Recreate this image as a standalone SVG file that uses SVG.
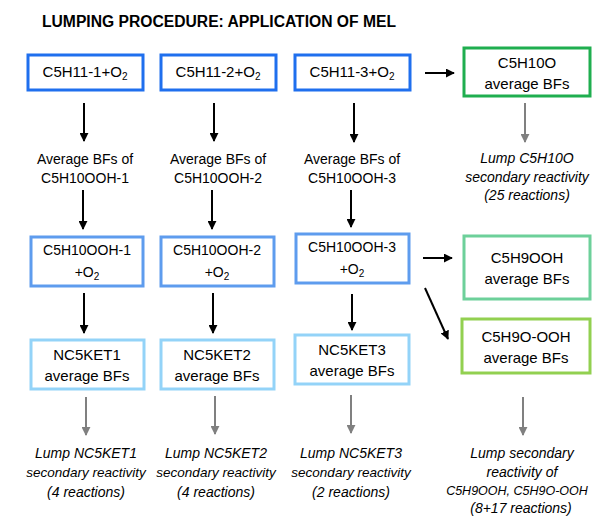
<svg xmlns="http://www.w3.org/2000/svg" width="595" height="516" viewBox="0 0 595 516">
<defs>
<marker id="ab" viewBox="0 0 10 10" refX="9" refY="5" markerWidth="4.5" markerHeight="4.5" orient="auto" markerUnits="strokeWidth"><path d="M0,0 L10,5 L0,10 z" fill="#000"/></marker>
<marker id="ag" viewBox="0 0 10 10" refX="9" refY="5" markerWidth="4.5" markerHeight="4.5" orient="auto" markerUnits="strokeWidth"><path d="M0,0 L10,5 L0,10 z" fill="#808080"/></marker>
</defs>
<style>
text{font-family:"Liberation Sans",Arial,sans-serif;font-size:14px;fill:#000;text-anchor:middle}
.t{font-size:16px;font-weight:bold;text-anchor:start}
.b{font-size:15px}
.i{font-style:italic}
.n{font-size:13.5px}
.m{font-size:12.5px}
.s{font-size:10px}
rect{fill:#fff;stroke-width:3}
.r1{stroke:#1f6fee}
.r3{stroke:#5e9cee}
.r4{stroke:#93d3f8}
.g1{stroke:#1fae4f}
.g2{stroke:#6dd09a}
.g3{stroke:#92d050}
.k{stroke:#000;stroke-width:2;fill:none;marker-end:url(#ab)}
.g{stroke:#808080;stroke-width:2;fill:none;marker-end:url(#ag)}
</style>
<text class="t" x="42" y="27" textLength="354" lengthAdjust="spacingAndGlyphs">LUMPING PROCEDURE: APPLICATION OF MEL</text>

<g id="n_c5h11_1"><rect class="r1" x="28" y="55" width="115" height="35"/><text class="b" x="85" y="77">C5H11-1+O<tspan class="s" dy="3">2</tspan></text></g>
<g id="n_c5h11_2"><rect class="r1" x="161" y="55" width="115" height="35"/><text class="b" x="218" y="77">C5H11-2+O<tspan class="s" dy="3">2</tspan></text></g>
<g id="n_c5h11_3"><rect class="r1" x="295" y="55" width="115" height="35"/><text class="b" x="352" y="77">C5H11-3+O<tspan class="s" dy="3">2</tspan></text></g>
<g id="n_c5h10o"><rect class="g1" x="464" y="48" width="126" height="48"/><text class="b" x="527" y="68">C5H10O</text><text class="b" x="527" y="89">average BFs</text></g>

<g id="n_avg1"><text x="85" y="164">Average BFs of</text><text x="85" y="183">C5H10OOH-1</text></g>
<g id="n_avg2"><text x="218" y="164">Average BFs of</text><text x="218" y="183">C5H10OOH-2</text></g>
<g id="n_avg3"><text x="352" y="164">Average BFs of</text><text x="352" y="183">C5H10OOH-3</text></g>
<g id="n_lump_c5h10o"><text class="i" x="527" y="163">Lump C5H10O</text><text class="i" x="527" y="182">secondary reactivity</text><text class="i" x="527" y="200">(25 reactions)</text></g>

<g id="n_ooh1"><rect class="r3" x="31" y="237" width="112" height="49"/><text x="87" y="255">C5H10OOH-1</text><text x="87" y="277">+O<tspan class="s" dy="3">2</tspan></text></g>
<g id="n_ooh2"><rect class="r3" x="161" y="237" width="113" height="49"/><text x="217" y="255">C5H10OOH-2</text><text x="217" y="277">+O<tspan class="s" dy="3">2</tspan></text></g>
<g id="n_ooh3"><rect class="r3" x="296" y="234" width="113" height="49"/><text x="352" y="252">C5H10OOH-3</text><text x="352" y="274">+O<tspan class="s" dy="3">2</tspan></text></g>
<g id="n_c5h9ooh"><rect class="g2" x="464" y="236" width="126" height="63"/><text class="b" x="527" y="263">C5H9OOH</text><text class="b" x="527" y="284">average BFs</text></g>
<g id="n_c5h9o_ooh"><rect class="g3" x="462" y="319" width="128" height="54"/><text class="b" x="526" y="342">C5H9O-OOH</text><text class="b" x="526" y="363">average BFs</text></g>

<g id="n_ket1"><rect class="r4" x="31" y="340" width="113" height="49"/><text class="b" x="87" y="360">NC5KET1</text><text class="b" x="87" y="381">average BFs</text></g>
<g id="n_ket2"><rect class="r4" x="161" y="340" width="113" height="49"/><text class="b" x="217" y="360">NC5KET2</text><text class="b" x="217" y="381">average BFs</text></g>
<g id="n_ket3"><rect class="r4" x="295" y="335" width="114" height="49"/><text class="b" x="352" y="355">NC5KET3</text><text class="b" x="352" y="376">average BFs</text></g>

<g id="n_lump1"><text class="i" x="86" y="458">Lump NC5KET1</text><text class="i n" x="86" y="477">secondary reactivity</text><text class="i" x="86" y="497">(4 reactions)</text></g>
<g id="n_lump2"><text class="i" x="216" y="458">Lump NC5KET2</text><text class="i n" x="216" y="477">secondary reactivity</text><text class="i" x="216" y="497">(4 reactions)</text></g>
<g id="n_lump3"><text class="i" x="351" y="458">Lump NC5KET3</text><text class="i n" x="351" y="477">secondary reactivity</text><text class="i" x="351" y="497">(2 reactions)</text></g>
<g id="n_lump4"><text class="i" x="522" y="458">Lump secondary</text><text class="i" x="522" y="477">reactivity of</text><text class="i m" x="517" y="495">C5H9OOH, C5H9O-OOH</text><text class="i" x="521" y="513">(8+17 reactions)</text></g>

<g id="connectors">
<path class="k" d="M84,103 V141"/>
<path class="k" d="M214,103 V141"/>
<path class="k" d="M354,103 V142"/>
<path class="k" d="M425,73 H454"/>
<path class="k" d="M83,190 V229"/>
<path class="k" d="M212,190 V229"/>
<path class="k" d="M351,190 V227"/>
<path class="k" d="M84,293 V333"/>
<path class="k" d="M213,293 V333"/>
<path class="k" d="M352,294 V330"/>
<path class="k" d="M423,258 H452"/>
<path class="k" d="M425,288 L448,339"/>
<path class="g" d="M525,103 V142"/>
<path class="g" d="M86,397 V435"/>
<path class="g" d="M215,396 V434"/>
<path class="g" d="M351,395 V433"/>
<path class="g" d="M523,397 V435"/>
</g>
</svg>
